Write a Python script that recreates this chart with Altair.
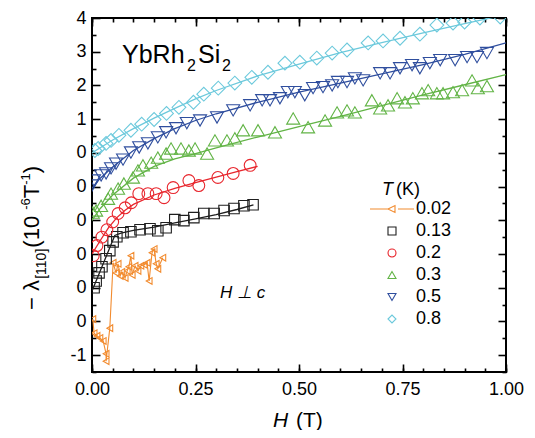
import altair as alt
import pandas as pd

# ---------------- data ----------------
SERIES = ["0.02", "0.13", "0.2", "0.3", "0.5", "0.8"]
COLORS = ["#F28B2E", "#1E1E1E", "#E8262D", "#62B446", "#2F4E9E", "#6CC9DC"]
OFFSETS = [0, 1, 2, 3, 4, 5]  # vertical shift of each curve (1 unit apart)

# T = 0.02 K (measured, connected by line)
H_002 = [0.002, 0.005, 0.012, 0.019, 0.027, 0.034, 0.034, 0.043, 0.051, 0.058,
         0.063, 0.068, 0.072, 0.080, 0.085, 0.089, 0.094, 0.097, 0.104, 0.111,
         0.118, 0.126, 0.133, 0.138, 0.145, 0.150, 0.155, 0.159, 0.171]
V_002 = [0.07, -0.35, -0.43, -0.49, -0.58, -0.96, -1.18, -0.20, 1.74, 1.44,
         1.71, 1.35, 1.47, 1.29, 1.50, 1.62, 1.95, 1.38, 1.65, 1.50,
         1.65, 1.68, 1.74, 1.20, 2.04, 2.15, 1.71, 1.56, 1.89]

# T = 0.13 K
H_013 = [0.005, 0.010, 0.017, 0.024, 0.034, 0.043, 0.051, 0.060, 0.075, 0.094,
         0.116, 0.140, 0.159, 0.179, 0.200, 0.222, 0.246, 0.270, 0.295, 0.319,
         0.343, 0.367, 0.389]
V_013 = [0.00, 0.20, 0.44, 0.62, 0.86, 1.10, 1.36, 1.51, 1.63, 1.66,
         1.72, 1.75, 1.69, 1.78, 2.02, 1.99, 2.08, 2.20, 2.20, 2.29,
         2.35, 2.43, 2.46]

# T = 0.2 K
H_02 = [0.003, 0.012, 0.024, 0.036, 0.050, 0.063, 0.080, 0.095, 0.113, 0.135,
        0.155, 0.174, 0.196, 0.234, 0.258, 0.304, 0.341, 0.382]
V_02 = [-0.05, 0.25, 0.50, 0.72, 0.95, 1.20, 1.37, 1.52, 1.79, 1.79,
        1.79, 1.67, 1.97, 2.18, 2.03, 2.27, 2.39, 2.63]

# T = 0.3 K
H_03 = [0.002, 0.010, 0.022, 0.039, 0.046, 0.063, 0.077, 0.099, 0.111, 0.123,
        0.143, 0.159, 0.179, 0.191, 0.215, 0.234, 0.249, 0.278, 0.297, 0.326,
        0.345, 0.365, 0.401, 0.442, 0.486, 0.522, 0.563, 0.592, 0.616, 0.635,
        0.676, 0.696, 0.715, 0.737, 0.756, 0.775, 0.797, 0.812, 0.833, 0.848,
        0.872, 0.894, 0.918, 0.932, 0.954]
V_03 = [0.23, 0.29, 0.43, 0.64, 0.79, 0.94, 1.09, 1.27, 1.48, 1.63,
        1.71, 1.86, 1.98, 2.13, 2.13, 2.07, 2.13, 1.98, 2.37, 2.37,
        2.43, 2.67, 2.67, 2.61, 3.02, 2.76, 2.96, 3.20, 3.26, 3.20,
        3.56, 3.32, 3.41, 3.62, 3.50, 3.62, 3.77, 3.86, 3.77, 3.77,
        3.80, 3.86, 4.15, 3.92, 3.98]

# T = 0.5 K
H_05 = [0.000, 0.005, 0.022, 0.034, 0.046, 0.058, 0.075, 0.094, 0.114, 0.135,
        0.159, 0.179, 0.203, 0.229, 0.261, 0.302, 0.341, 0.382, 0.411, 0.430,
        0.454, 0.473, 0.490, 0.514, 0.534, 0.558, 0.580, 0.594, 0.616, 0.635,
        0.655, 0.696, 0.720, 0.744, 0.773, 0.792, 0.816, 0.841, 0.877, 0.906,
        0.930, 0.954]
V_05 = [0.03, 0.18, 0.33, 0.39, 0.54, 0.68, 0.80, 1.01, 1.16, 1.28,
        1.46, 1.61, 1.73, 1.88, 1.96, 2.05, 2.26, 2.41, 2.56, 2.56,
        2.62, 2.80, 2.80, 2.71, 2.92, 2.95, 3.00, 3.10, 3.10, 3.21,
        3.15, 3.36, 3.36, 3.51, 3.60, 3.51, 3.66, 3.75, 3.75, 3.84,
        3.84, 3.96]

# T = 0.8 K
H_08 = [0.007, 0.015, 0.034, 0.046, 0.065, 0.094, 0.120, 0.150, 0.180, 0.210,
        0.245, 0.270, 0.305, 0.345, 0.386, 0.425, 0.466, 0.502, 0.543, 0.580,
        0.616, 0.667, 0.703, 0.744, 0.792, 0.833, 0.872, 0.900, 0.937, 0.986]
V_08 = [0.07, 0.13, 0.28, 0.37, 0.52, 0.67, 0.85, 0.99, 1.17, 1.35,
        1.50, 1.74, 1.92, 2.07, 2.24, 2.39, 2.66, 2.69, 2.81, 2.96,
        3.05, 3.26, 3.32, 3.40, 3.52, 3.79, 3.85, 3.88, 4.00, 4.03]

# fitted curves (solid lines)
FH_013 = [0.0, 0.055, 0.07, 0.10, 0.15, 0.20, 0.25, 0.30, 0.35, 0.39]
FV_013 = [-0.10, 1.55, 1.62, 1.70, 1.80, 1.92, 2.04, 2.17, 2.32, 2.46]
FH_02 = [0.0, 0.02, 0.04, 0.06, 0.08, 0.10, 0.15, 0.20, 0.25, 0.30, 0.35, 0.40]
FV_02 = [0.0, 0.40, 0.78, 1.08, 1.30, 1.47, 1.75, 1.95, 2.12, 2.28, 2.44, 2.60]
FH_03 = [0.0, 0.02, 0.05, 0.10, 0.15, 0.20, 0.25, 0.30, 0.40, 0.50, 0.60, 0.70, 0.80, 0.90, 1.00]
FV_03 = [0.0, 0.35, 0.75, 1.25, 1.60, 1.82, 1.98, 2.15, 2.47, 2.78, 3.08, 3.40, 3.72, 4.02, 4.32]
FH_05 = [0.0, 0.02, 0.05, 0.10, 0.15, 0.20, 0.25, 0.30, 0.40, 0.50, 0.60, 0.70, 0.80, 0.90, 1.00]
FV_05 = [-0.05, 0.25, 0.58, 1.07, 1.42, 1.72, 1.96, 2.16, 2.50, 2.80, 3.07, 3.34, 3.62, 3.92, 4.26]
FH_08 = [0.0, 0.02, 0.05, 0.10, 0.15, 0.20, 0.25, 0.30, 0.40, 0.50, 0.60, 0.70, 0.80, 0.90, 1.00]
FV_08 = [0.0, 0.15, 0.38, 0.72, 1.03, 1.32, 1.60, 1.85, 2.28, 2.63, 2.97, 3.27, 3.56, 3.83, 4.10]

X_MAJOR = [0.0, 0.25, 0.5, 0.75, 1.0]
X_MINOR = [round(i * 0.05, 2) for i in range(21)]
Y_MAJOR = list(range(-1, 10))
Y_MINOR = [v + 0.5 for v in range(-2, 9)]

# ---------------- tables ----------------
meas = {"0.02": (H_002, V_002), "0.13": (H_013, V_013), "0.2": (H_02, V_02),
        "0.3": (H_03, V_03), "0.5": (H_05, V_05), "0.8": (H_08, V_08)}
fits = {"0.13": (FH_013, FV_013), "0.2": (FH_02, FV_02), "0.3": (FH_03, FV_03),
        "0.5": (FH_05, FV_05), "0.8": (FH_08, FV_08)}
off = dict(zip(SERIES, OFFSETS))


def table(d, s):
    hs, vs = d[s]
    return pd.DataFrame({"series": s, "H": hs, "y": [v + off[s] for v in vs],
                         "idx": list(range(len(hs)))})


# ---------------- styling ----------------
FONT = "Liberation Sans"
ORANGE_PATH = "M-5.5,0L-1,0M-1,0L0.75,-0.85L0.75,0.85ZM1.5,0L5.5,0"
SHAPES = [ORANGE_PATH, "square", "circle", "triangle-up", "triangle-down", "diamond"]
SIZES = [45, 110, 140, 170, 170, 190]

XS = alt.Scale(domain=[0, 1], nice=False, zero=False)
YS = alt.Scale(domain=[-1.5, 9], nice=False, zero=False)
CS = alt.Scale(domain=SERIES, range=COLORS)
SS = alt.Scale(domain=SERIES, range=SHAPES)

LEG = alt.Legend(title=None, orient="none", legendX=291, legendY=182,
                 symbolSize=64, symbolStrokeWidth=1.1, labelFontSize=18,
                 labelFont=FONT, labelColor="black", labelOffset=15,
                 rowPadding=4, padding=0)


def axis(orient, values, size, **kw):
    return alt.Axis(orient=orient, values=values, tickSize=size, offset=-size,
                    domain=False, grid=False, title=None, tickColor="black",
                    tickWidth=1.6, labelFlush=False, **kw)


AX = {
    "x": [axis("bottom", X_MAJOR, 8, labels=True, format=".2f", labelFontSize=18,
               labelFont=FONT, labelColor="black", labelPadding=8),
          axis("bottom", X_MINOR, 4, labels=False),
          axis("top", X_MAJOR, 8, labels=False),
          axis("top", X_MINOR, 4, labels=False)],
    "y": [axis("left", Y_MAJOR, 8, labels=True, labelFontSize=18, labelFont=FONT,
               labelColor="black", labelPadding=6,
               labelExpr="datum.value == -1 ? '-1' : (datum.value <= 5 ? '0' : format(datum.value - 5, 'd'))"),
          axis("left", Y_MINOR, 4, labels=False),
          axis("right", Y_MAJOR, 8, labels=False),
          axis("right", Y_MINOR, 4, labels=False)],
}
axis_iter = iter(range(4))


def next_axes():
    i = next(axis_iter, None)
    if i is None:
        return None, None
    return AX["x"][i], AX["y"][i]


layers = []

# fitted lines
for s in fits:
    ax, ay = next_axes()
    layers.append(alt.Chart(table(fits, s)).mark_line(
        strokeWidth=1.3, clip=True, color=COLORS[SERIES.index(s)]).encode(
        x=alt.X("H:Q", scale=XS, axis=ax),
        y=alt.Y("y:Q", scale=YS, axis=ay),
    ))

# 0.02 K: connected measured points
or_df = table(meas, "0.02")
layers.append(alt.Chart(or_df).mark_line(strokeWidth=1.1, color=COLORS[0], clip=True).encode(
    x=alt.X("H:Q", scale=XS, axis=None),
    y=alt.Y("y:Q", scale=YS, axis=None),
    order="idx:Q",
))
layers.append(alt.Chart(or_df).mark_point(shape="triangle-left", size=SIZES[0], filled=False,
                                          strokeWidth=1.1, clip=True, opacity=1).encode(
    x=alt.X("H:Q", scale=XS, axis=None),
    y=alt.Y("y:Q", scale=YS, axis=None),
    color=alt.Color("series:N", scale=CS, legend=LEG),
))

# other temperatures: open symbols
for s in SERIES[1:]:
    layers.append(alt.Chart(table(meas, s)).mark_point(
        size=SIZES[SERIES.index(s)], filled=False, strokeWidth=1.1, clip=True, opacity=1).encode(
        x=alt.X("H:Q", scale=XS, axis=None),
        y=alt.Y("y:Q", scale=YS, axis=None),
        color=alt.Color("series:N", scale=CS, legend=LEG),
        shape=alt.Shape("series:N", scale=SS, legend=LEG),
    ))


def label(text, x, y, size, style="normal", angle=0, align="left", baseline="alphabetic"):
    return alt.Chart(alt.Data(values=[{}])).mark_text(
        text=text, fontSize=size, font=FONT, fontStyle=style, angle=angle,
        align=align, baseline=baseline, color="black"
    ).encode(x=alt.value(x), y=alt.value(y))


texts = [
    label("YbRh", 30, 45, 25),
    label("2", 95, 53, 16),
    label("Si", 106, 45, 25),
    label("2", 130, 53, 16),
    label("H ⊥ c", 128, 280, 17, style="italic"),
    label("H", 181, 409, 21, style="italic"),
    label("(T)", 204, 409, 21),
    label("T", 290, 177, 18, style="italic"),
    label("(K)", 304, 177, 18),
]

# y-axis title assembled from pieces (rotated)
W = {"−": 0.584, " ": 0.278, "λ": 0.556, "[": 0.278, "]": 0.278, "1": 0.556, "0": 0.556,
     "(": 0.333, ")": 0.333, "-": 0.333, "6": 0.556, "T": 0.611}
pieces = [("− λ", 22, 0), ("[110]", 14, 7), (" (10", 22, 0), ("-6", 13, -9),
          ("T", 22, 0), ("-1", 13, -9), (")", 22, 0)]
ypos = 292
for txt, sz, dx in pieces:
    texts.append(label(txt, -53 + dx, ypos, sz, angle=270))
    ypos -= sum(W.get(c, 0.55) for c in txt) * sz

chart = alt.layer(*layers, *texts).resolve_axis(
    x="independent", y="independent"
).properties(
    width=414, height=354,
    autosize=alt.AutoSizeParams(type="none"),
    padding={"left": 84, "top": 10, "right": 21, "bottom": 58},
).configure_view(stroke="black", strokeWidth=2)

chart.save("out.html", embed_options={"renderer": "svg", "actions": False})
